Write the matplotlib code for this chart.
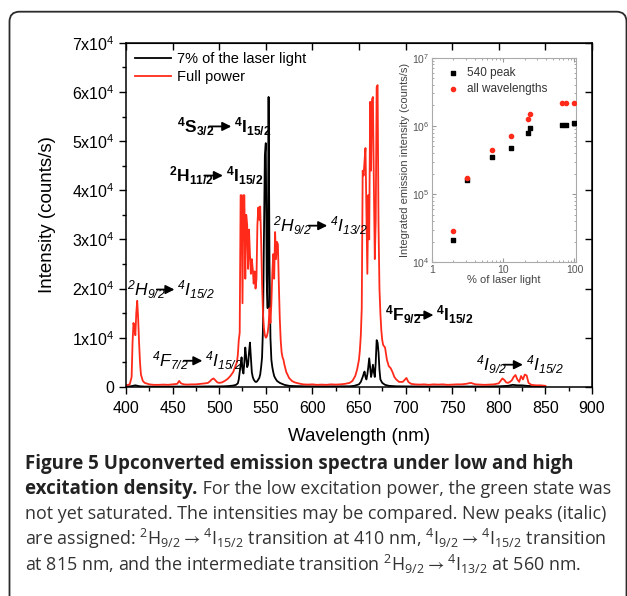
import numpy as np
import matplotlib.pyplot as plt
from matplotlib.patches import FancyBboxPatch
from matplotlib.ticker import MultipleLocator, NullFormatter, LogLocator

plt.rcParams['font.family'] = ['Liberation Sans', 'DejaVu Sans']
plt.rcParams['mathtext.default'] = 'regular'

# spectra (wavelength in nm, intensity in counts/s)
red_wl = [400, 402, 404, 406, 407, 408, 409, 410, 411, 412, 413, 414, 415, 416, 418, 420,
          425, 430, 435, 440, 445, 450, 455, 457, 459, 462, 466, 470, 475, 480, 485, 488,
          490, 492, 494, 496, 498, 500, 503, 506, 509, 512, 515, 517, 519, 520, 521, 522,
          523, 524, 525, 526, 527, 528, 529, 530, 531, 532, 533, 534, 535, 536, 537, 538,
          539, 540, 541, 542, 543, 544, 545, 546, 547, 548, 549, 550, 551, 552, 553, 554,
          555, 556, 557, 558, 559, 560, 561, 562, 563, 564, 565, 566, 567, 568, 569, 570,
          572, 575, 578, 581, 585, 590, 595, 600, 605, 610, 615, 620, 625, 630, 635, 640,
          643, 646, 648, 650, 651, 652, 653, 654, 655, 656, 657, 658, 659, 660, 661, 662,
          663, 664, 665, 666, 667, 668, 669, 670, 671, 672, 673, 674, 675, 676, 678, 680,
          682, 684, 686, 688, 690, 693, 697, 699, 701, 703, 706, 710, 715, 720, 725, 730,
          735, 740, 745, 750, 755, 760, 765, 770, 775, 780, 785, 790, 795, 800, 802, 804,
          806, 808, 810, 812, 814, 816, 818, 820, 822, 824, 826, 828, 830, 832, 835, 840,
          845, 850]
red_int = [300, 400, 500, 2000, 9000, 13000, 12000, 10500, 15000, 17500, 14000, 9000, 5000, 2500, 1200, 800,
           500, 400, 400, 450, 400, 500, 600, 1200, 700, 500, 450, 500, 500, 600, 700, 800,
           1100, 1500, 1700, 1300, 900, 800, 900, 1200, 1600, 2200, 3000, 4000, 5000, 6500, 9500, 11000,
           39000, 39000, 17000, 39000, 39000, 22000, 35000, 33000, 24000, 32000, 27000, 23000, 26000, 24000, 21000, 23500,
           20000, 22000, 33000, 36500, 34000, 36700, 30000, 21000, 15000, 12000, 10500, 10000, 10200, 11000, 12500, 16000,
           13000, 17000, 23000, 27000, 22000, 31500, 26000, 29500, 29000, 21000, 14000, 9500, 7000, 6000, 5500, 4500,
           3000, 1800, 1200, 900, 700, 500, 450, 500, 400, 450, 400, 500, 450, 500, 600, 800,
           1200, 2200, 3500, 5500, 7500, 10500, 16000, 44000, 43000, 46000, 48600, 35000, 23000, 39000, 30000, 58000,
           44000, 58500, 59000, 41000, 26000, 34000, 61000, 61400, 33000, 20000, 15000, 11500, 9500, 8500, 8000, 5500,
           4200, 3800, 3000, 2000, 1500, 1000, 1000, 1400, 1800, 1000, 600, 500, 450, 500, 400, 500,
           450, 500, 400, 450, 500, 500, 600, 800, 500, 450, 400, 450, 500, 700, 1200, 1700,
           1400, 900, 800, 1000, 1300, 2000, 2400, 1500, 1000, 2200, 1500, 2500, 2300, 800, 400, 300,
           300, 200]

black_wl = [400, 405, 410, 415, 420, 430, 440, 450, 460, 470, 480, 490, 500, 505, 510, 515,
            518, 520, 521, 522, 523, 524, 525, 526, 527, 528, 529, 530, 531, 532, 533, 534,
            535, 536, 537, 538, 539, 540, 541, 542, 543, 544, 545, 546, 547, 548, 549, 550,
            551, 552, 553, 554, 555, 556, 557, 558, 559, 560, 562, 565, 570, 575, 580, 590,
            600, 620, 640, 645, 650, 652, 654, 655, 656, 657, 658, 659, 660, 661, 662, 663,
            664, 665, 666, 667, 668, 669, 670, 671, 672, 673, 675, 678, 682, 690, 700, 720,
            750, 780, 800, 810, 815, 820, 825, 830, 840, 850]
black_int = [100, 100, 300, 100, 50, 50, 50, 50, 50, 50, 50, 80, 80, 100, 150, 250,
             400, 700, 1500, 3000, 4400, 6000, 3500, 2700, 5000, 8000, 6000, 4000, 4500, 7000, 9000, 6000,
             3000, 2000, 1500, 1200, 1000, 1000, 1200, 1500, 1800, 2500, 4000, 6000, 12000, 30000, 47000, 49600,
             22000, 16000, 59000, 25000, 10000, 5500, 4000, 3000, 2200, 1800, 1200, 800, 400, 200, 150, 100,
             80, 80, 100, 200, 500, 1000, 2000, 2600, 3100, 2000, 1500, 2500, 4000, 5800, 4000, 2000,
             3000, 4500, 3000, 2000, 5000, 9500, 9000, 7000, 3500, 1500, 800, 400, 200, 100, 80, 60,
             60, 60, 100, 200, 400, 300, 300, 200, 80, 50]

# inset: integrated intensity vs % of laser light
pct = [2, 3.1, 7, 13, 22, 24, 68, 75, 100]
peak540 = [2.1e4, 1.6e5, 3.5e5, 4.8e5, 8.0e5, 9.2e5, 1.05e6, 1.03e6, 1.1e6]
all_wl = [2.85e4, 1.7e5, 4.4e5, 7.1e5, 1.28e6, 1.48e6, 2.15e6, 2.2e6, 2.2e6]

yticks = [0, 10000, 20000, 30000, 40000, 50000, 60000, 70000]
ytick_labels = ['0', '1x10$^4$', '2x10$^4$', '3x10$^4$', '4x10$^4$', '5x10$^4$', '6x10$^4$', '7x10$^4$']
inset_xticks = [1, 10, 100]
inset_xtick_labels = ['1', '10', '100']

fig = plt.figure(figsize=(6.27, 5.96), dpi=100)

# rounded frame around figure + caption
frame = FancyBboxPatch((0.095, -0.3), 6.17, 6.143, boxstyle='round,pad=0,rounding_size=0.1',
                       transform=fig.dpi_scale_trans, fill=False, ec='#2b2b2b', lw=1.3)
fig.patches.append(frame)

ax = fig.add_axes([0.201, 0.351, 0.743, 0.577])
ax.plot(black_wl, black_int, color='black', lw=1.3, label='7% of the laser light')
ax.plot(red_wl, red_int, color='#ff2a1a', lw=1.3, label='Full power')
ax.set_xlim(400, 900)
ax.set_ylim(0, 70000)
ax.set_yticks(yticks)
ax.set_yticklabels(ytick_labels)
ax.xaxis.set_major_locator(MultipleLocator(50))
ax.xaxis.set_minor_locator(MultipleLocator(25))
ax.yaxis.set_minor_locator(MultipleLocator(5000))
ax.tick_params(which='major', direction='out', length=5, width=1, labelsize=11.5)
ax.tick_params(axis='x', pad=5)
ax.tick_params(which='minor', direction='out', length=3, width=1)
for s in ax.spines.values():
    s.set_linewidth(1.1)
ax.set_xlabel('Wavelength (nm)', fontsize=13.5, labelpad=9)
ax.set_ylabel('Intensity (counts/s)', fontsize=13.5, labelpad=11)

top = ax.secondary_xaxis('top')
top.xaxis.set_major_locator(MultipleLocator(50))
top.tick_params(direction='in', length=5, width=1, labeltop=False)
right = ax.secondary_yaxis('right')
right.yaxis.set_major_locator(MultipleLocator(10000))
right.tick_params(direction='in', length=5, width=1, labelright=False)

ax.legend(loc='upper left', frameon=False, fontsize=10.5, handlelength=2.5,
          handletextpad=0.4, labelspacing=0.3, borderaxespad=0.2)

# transition labels
def label(x0, x1, x2, y, left, right_txt, bold):
    kw = dict(fontsize=12.5, va='center', ha='left',
              fontweight='bold' if bold else 'normal',
              fontstyle='normal' if bold else 'italic')
    ax.text(x0, y, left, **kw)
    ax.annotate('', xy=(x2, y), xytext=(x1, y),
                arrowprops=dict(arrowstyle='-|>', color='black', lw=1.3, mutation_scale=13,
                                shrinkA=0, shrinkB=0))
    ax.text(x2 + 3, y, right_txt, **kw)

label(455, 489, 513, 53000, '$^{4}$S$_{3/2}$', '$^{4}$I$_{15/2}$', True)
label(446, 484, 504, 43000, '$^{2}$H$_{11/2}$', '$^{4}$I$_{15/2}$', True)
label(558, 596, 616, 32800, '$^{2}$H$_{9/2}$', '$^{4}$I$_{13/2}$', False)
label(401, 433, 452, 19800, '$^{2}$H$_{9/2}$', '$^{4}$I$_{15/2}$', False)
label(428, 462, 482, 5300, '$^{4}$F$_{7/2}$', '$^{4}$I$_{15/2}$', False)
label(678, 710, 730, 14600, '$^{4}$F$_{9/2}$', '$^{4}$I$_{15/2}$', True)
label(776, 805, 826, 4500, '$^{4}$I$_{9/2}$', '$^{4}$I$_{15/2}$', False)

# inset
ins = fig.add_axes([0.689, 0.560, 0.230, 0.343])
ins.scatter(pct, peak540, marker='s', s=9, color='black', label='540 peak', zorder=3)
ins.scatter(pct, all_wl, marker='o', s=9, color='#ff2a1a', label='all wavelengths', zorder=3)
ins.set_xscale('log')
ins.set_yscale('log')
ins.set_xlim(1, 106)
ins.set_ylim(1e4, 1e7)
ins.set_xticks(inset_xticks)
ins.set_xticklabels(inset_xtick_labels)
ins.tick_params(which='both', direction='in', top=True, right=True, colors='#999999',
                labelcolor='#555555', labelsize=7.5, pad=2)
ins.tick_params(which='major', length=3)
ins.tick_params(which='minor', length=1.5)
for s in ins.spines.values():
    s.set_color('#aaaaaa')
    s.set_linewidth(0.8)
ins.set_xlabel('% of laser light', fontsize=8, color='#444444', labelpad=0)
ins.set_ylabel('Integrated emission intensity (counts/s)', fontsize=8, color='#444444', labelpad=1)
ins.legend(loc='upper left', frameon=False, fontsize=8.5, handletextpad=0.2, markerscale=1.0,
           labelspacing=0.3, borderaxespad=0.4, labelcolor='#333333')

# caption
cap_font = ['Open Sans', 'DejaVu Sans']
bold_size = 13.5
body_size = 12.9
bold_color = '#222222'
body_color = '#333333'
x_cap = 25 / 627
line_y = [464, 489, 514, 539, 564]
fig.text(x_cap, 1 - line_y[0] / 596, 'Figure 5 Upconverted emission spectra under low and high',
         family=cap_font, fontsize=bold_size, fontweight='bold', color=bold_color, va='center')
t = fig.text(x_cap, 1 - line_y[1] / 596, 'excitation density.', family=cap_font, fontsize=bold_size,
             fontweight='bold', color=bold_color, va='center')
fig.canvas.draw()
bb = t.get_window_extent()
fig.text(bb.x1 / fig.bbox.width, 1 - line_y[1] / 596, ' For the low excitation power, the green state was',
         family=cap_font, fontsize=body_size, color=body_color, va='center')
fig.text(x_cap, 1 - line_y[2] / 596, 'not yet saturated. The intensities may be compared. New peaks (italic)',
         family=cap_font, fontsize=body_size, color=body_color, va='center')
fig.text(x_cap, 1 - line_y[3] / 596,
         r'are assigned: $^{2}$H$_{9/2}\rightarrow^{4}$I$_{15/2}$ transition at 410 nm, '
         r'$^{4}$I$_{9/2}\rightarrow^{4}$I$_{15/2}$ transition',
         family=cap_font, fontsize=body_size, color=body_color, va='center')
fig.text(x_cap, 1 - line_y[4] / 596,
         r'at 815 nm, and the intermediate transition $^{2}$H$_{9/2}\rightarrow^{4}$I$_{13/2}$ at 560 nm.',
         family=cap_font, fontsize=body_size, color=body_color, va='center')

fig.savefig('out.png', dpi=100)
